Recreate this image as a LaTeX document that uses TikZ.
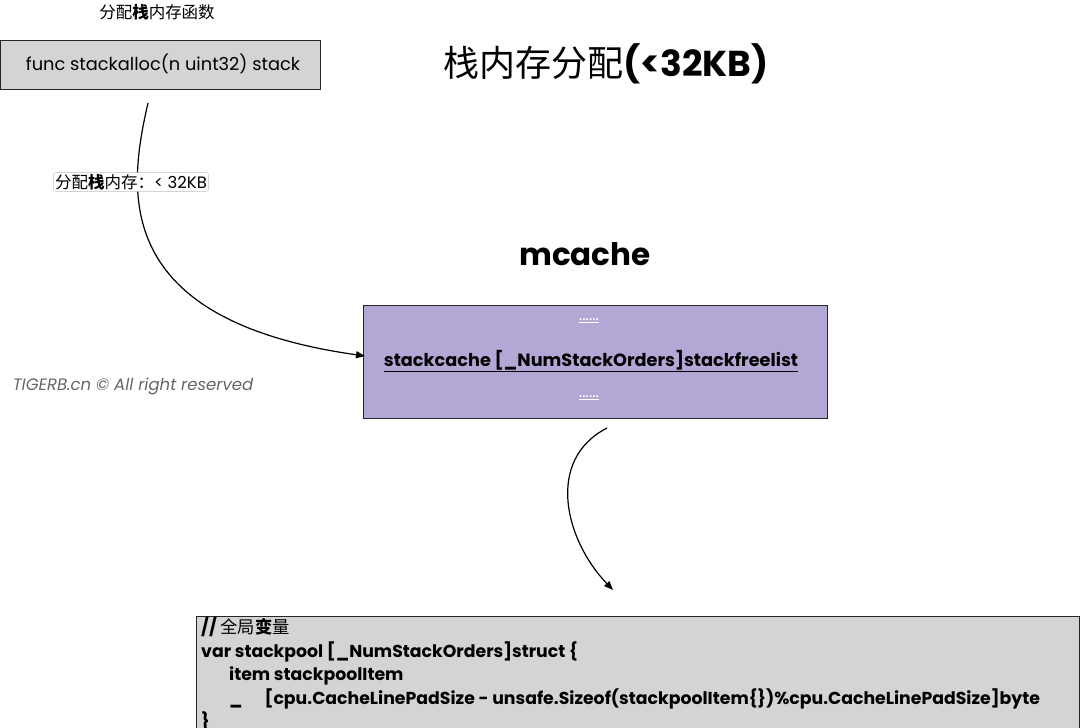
\documentclass[tikz,border=0pt]{standalone}
\usepackage{fontspec}
\setmainfont{Poppins}
\setsansfont{Poppins}
\newfontfamily\cjk{Noto Sans CJK SC}
\usetikzlibrary{arrows.meta}
\definecolor{boxgray}{RGB}{212,212,212}
\definecolor{cachepurple}{RGB}{179,167,214}
\tikzset{
  codebox/.style={draw=black!85,line width=1pt,fill=boxgray},
  link/.style={-{Triangle[length=9pt,width=7pt]},line width=1.2pt}
}
\begin{document}
\begin{tikzpicture}[x=1pt,y=-1pt]
\useasboundingbox[fill=white] (0,0) rectangle (1080,728);
% function box
\node[font=\fontsize{16.5}{18}\selectfont\cjk] (fnlabel) at (157,12) {分配{\bfseries 栈}内存函数};
\draw[codebox] (0,40) rectangle (320,89);
\node[font=\fontsize{17.8}{20}\selectfont] (fnbox) at (163,64) {func stackalloc(n uint32) stack};
\node[font=\fontsize{36}{38}\selectfont] (title) at (606,64) {{\cjk 栈内存分配}\bfseries(<32KB)};
% mcache
\node[font=\fontsize{31}{33}\selectfont\bfseries] (mcache) at (585,254) {mcache};
\draw[codebox,fill=cachepurple] (363,305) rectangle (827,418);
\node[font=\fontsize{16}{18}\selectfont,text=white] (dots1) at (589,321) {\underline{......}};
\node[font=\fontsize{17.7}{20}\selectfont\bfseries] (stackcache) at (591,361) {\underline{stackcache [\_NumStackOrders]stackfreelist}};
\node[font=\fontsize{16}{18}\selectfont,text=white] (dots2) at (589,398) {\underline{......}};
\node[font=\fontsize{16.5}{18}\selectfont\itshape,text=black!60] (mark) at (133,386) {TIGERB.cn © All right reserved};
% arrows
\coordinate (a1) at (148,103);
\coordinate (a2) at (365,356);
\draw[link] (a1) .. controls (128,190) and (110,320) .. (a2);
\node[fill=white,draw=black!25,rounded corners=2pt,inner sep=1.5pt,font=\fontsize{16.5}{18}\selectfont] (alloclabel) at (131,182)
  {{\cjk 分配{\bfseries 栈}内存：}< 32KB};
\coordinate (b1) at (607,428);
\coordinate (b2) at (613,590);
\draw[link] (b1) .. controls (545,460) and (565,540) .. (b2);
% stackpool box
\draw[codebox] (196,616) rectangle (1079,740);
\node[anchor=north west,align=left,inner sep=0pt,font=\fontsize{17.3}{23.5}\selectfont\bfseries] (pool) at (201,617)
  {// {\cjk\mdseries 全局{\bfseries 变}量}\\
   var stackpool [\_NumStackOrders]struct \{\\
   \hspace{28pt}item stackpoolItem\\
   \hspace{28pt}\_\hspace{22pt}[cpu.CacheLinePadSize - unsafe.Sizeof(stackpoolItem\{\})\%cpu.CacheLinePadSize]byte\\
   \}};
\end{tikzpicture}
\end{document}
